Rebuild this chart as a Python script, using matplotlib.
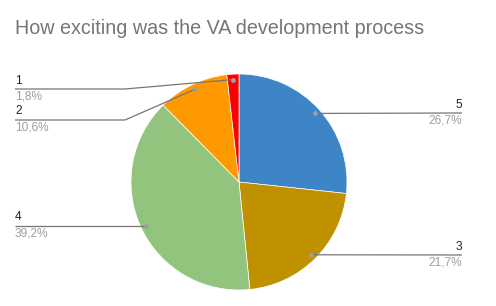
import numpy as np
import matplotlib.pyplot as plt

plt.rcParams['font.family'] = ['Liberation Sans', 'DejaVu Sans']

labels = ['5', '3', '4', '2', '1']
values = [26.7, 21.7, 39.2, 10.6, 1.8]
pct_text = ['26,7%', '21,7%', '39,2%', '10,6%', '1,8%']
colors = ['#3d85c6', '#bf9000', '#93c47d', '#ff9900', '#ff0000']

W, H = 496, 306
cx, cy, R = 239, H - 182, 108

fig = plt.figure(figsize=(W / 100, H / 100), dpi=100)
ax = fig.add_axes([0, 0, 1, 1])

wedges, _ = ax.pie(values, colors=colors, startangle=90, counterclock=False,
                   center=(cx, cy), radius=R, frame=True,
                   wedgeprops=dict(edgecolor='white', linewidth=0.5))
ax.set_xlim(0, W)
ax.set_ylim(0, H)
ax.axis('off')

# label layout: side, y of the leader line (px from top)
layout = {'5': ('right', 113), '3': ('right', 255), '4': ('left', 226),
          '2': ('left', 120), '1': ('left', 89)}
line_col = '#757575'
for w, lab, pct in zip(wedges, labels, pct_text):
    ang = np.deg2rad((w.theta1 + w.theta2) / 2)
    ax_x = cx + 0.95 * R * np.cos(ang)
    ax_y = cy + 0.95 * R * np.sin(ang)
    side, ly = layout[lab]
    ly = H - ly
    if side == 'right':
        xs, ys = [ax_x, 462], [ax_y, ly]
        tx, ha = 462, 'right'
    else:
        if abs(ax_y - ly) > 2:
            xs, ys = [15, 125, ax_x], [ly, ly, ax_y]
        else:
            xs, ys = [15, ax_x], [ly, ly]
        tx, ha = 15, 'left'
    ax.plot(xs, ys, color=line_col, lw=0.9, solid_capstyle='butt')
    ax.plot([ax_x], [ax_y], 'o', color='#9e9e9e', ms=3.5, mec='none')
    ax.text(tx, ly + 2.5, lab, ha=ha, va='bottom', fontsize=8.6, color='#222222')
    ax.text(tx, ly - 1.5, pct, ha=ha, va='top', fontsize=8.6, color='#9e9e9e')

fig.text(15 / W, 1 - 28 / H, 'How exciting was the VA development process',
         ha='left', va='center', fontsize=14.2, color='#757575')

fig.savefig('out.png', dpi=100)
